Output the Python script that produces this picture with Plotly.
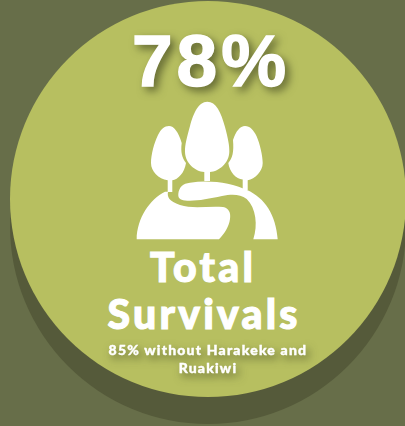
import plotly.graph_objects as go

# Text content of the card
headline = "78%"
title_lines = ["Total", "Survivals"]
note_lines = ["85% without Harakeke and", "Ruakiwi"]

BACKGROUND = "#676E49"
DISC = "#B7BF60"
DISC_SHADOW = "#555A3A"
WHITE = "#FFFFFF"

# Icon outlines: three trees on a hill with a winding path
tree_centre = ("M207.3 101.7 C216 101.7 221 112 225 127 C228 138 229.6 146 229.3 152 "
               "C229 163 219 171.5 210 172 L210 181 L204.3 181 L204.3 172 "
               "C195 171.5 185.3 163 185 152 C184.8 145 187 137 190 126 C193.5 113 198.5 101.7 207.3 101.7 Z")
tree_left = ("M169 126 C174 126 178.5 132 181.7 143 C180.5 152 182 158 186 163 "
             "C184.5 173 178 179.5 172.3 180.3 L172.3 192 L167.7 192 L167.7 180.3 "
             "C158.5 179 151 171.5 151 163 C151 155 154 143 158 135 C161 129 164.5 126 169 126 Z")
tree_right = ("M245 126 C250 126 253.5 130 256.5 136 C260 144 262.7 156 262.7 163 "
              "C262.7 171.5 255 179 247.7 180.3 L247.7 190 L242.7 190 L242.7 179.5 "
              "C236 179 229.5 172 228.3 163 C232.5 158 234 152 233 140 C236 131 240 126 245 126 Z")
hill = ("M136.7 239.3 C137 218 150 199 165 191.7 L168 191.7 C167 197 169 201 180 205 "
        "C192 209 207 206 223 207 C229 208 231 213 230 219 C229 227 224 234 219 239.3 Z")
path_road = ("M178.3 194 C179 187 183 183.5 190 182.7 C210 179.5 232 183 247 190 "
             "C265 198 276 215 277.7 239.3 L253.3 239.3 C258 225 256 208 246.7 199 "
             "C240 194 232 194 222 196 C208 199 195 201.5 185 200.5 C180 200 178 198 178.3 194 Z")
icon_paths = [tree_left, tree_right, tree_centre, hill, path_road]

shapes = [
    dict(type="circle", xref="x", yref="y", x0=10, x1=406, y0=28, y1=424,
         fillcolor=DISC_SHADOW, line_width=0, layer="below"),
    dict(type="circle", xref="x", yref="y", x0=10, x1=406, y0=1, y1=397,
         fillcolor=DISC, line_width=0, layer="below"),
]
shapes += [dict(type="path", path=p, xref="x", yref="y", fillcolor=WHITE, line_width=0, layer="below")
           for p in icon_paths]

annotations = [
    dict(text=headline, x=211, y=60,
         font=dict(family="Liberation Sans", size=73, color=WHITE, weight="bold")),
    dict(text=title_lines[0], x=203, y=266,
         font=dict(family="Lato", size=41, color=WHITE, weight=900)),
    dict(text=title_lines[1], x=204, y=313,
         font=dict(family="Lato", size=41, color=WHITE, weight=900)),
    dict(text="<br>".join(note_lines), x=208, y=358,
         font=dict(family="Lato", size=14, color=WHITE, weight=900)),
]
for a in annotations:
    a.update(xref="x", yref="y", showarrow=False, xanchor="center", yanchor="middle")

fig = go.Figure()
fig.update_layout(
    width=405, height=426, margin=dict(l=0, r=0, t=0, b=0),
    paper_bgcolor=BACKGROUND, plot_bgcolor=BACKGROUND,
    xaxis=dict(range=[0, 405], visible=False, fixedrange=True),
    yaxis=dict(range=[426, 0], visible=False, fixedrange=True),
    shapes=shapes, annotations=annotations, showlegend=False,
)

# Tracking, stroke weight and soft shadows of the headings, in the same order as the annotations
styling = """
var gaps = ['4px', '3.2px', '3.2px', '1.2px'];
var strokes = ['1.4px', '1.1px', '1.1px', '0.4px'];
var glows = ['drop-shadow(4px 4px 4px rgba(40,45,20,0.6))', 'none', 'none',
             'drop-shadow(3px 4px 4px rgba(40,45,20,0.55))'];
document.querySelectorAll('.annotation-text').forEach(function (t, i) {
    t.style.letterSpacing = gaps[i];
    t.style.stroke = '#FFFFFF';
    t.style.strokeWidth = strokes[i];
    t.style.filter = glows[i];
});
"""
fig.write_html("out.html", config={"displayModeBar": False}, post_script=styling)
